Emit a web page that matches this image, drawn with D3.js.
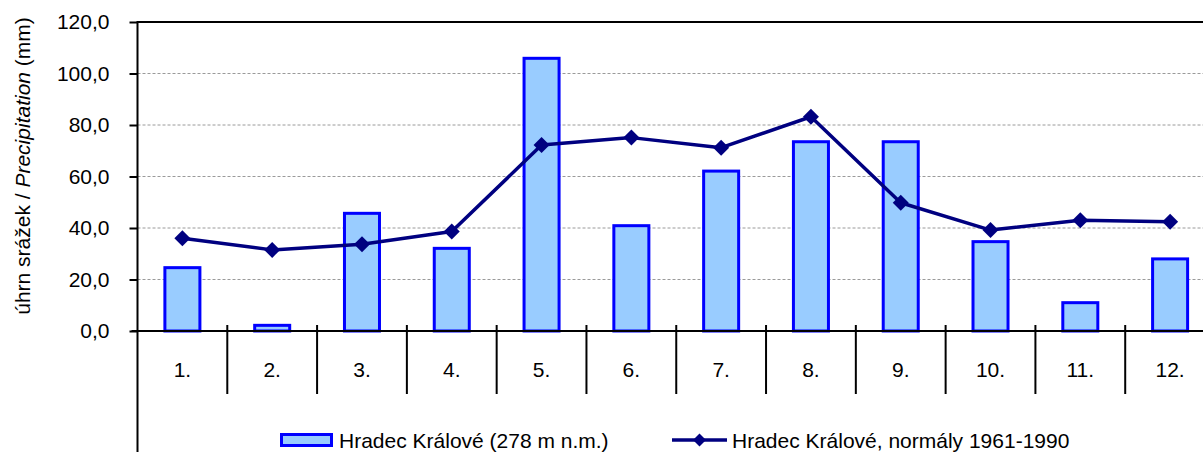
<!DOCTYPE html>
<html><head><meta charset="utf-8">
<script src="https://cdn.jsdelivr.net/npm/d3@7"></script>
<style>body{margin:0;background:#fff}svg{display:block;font-family:"Liberation Sans",Arial,sans-serif}</style>
</head><body><svg id="c" width="1203" height="452"></svg>
<script>
const categories = ["1.","2.","3.","4.","5.","6.","7.","8.","9.","10.","11.","12."];
const precip = [24.6, 2.2, 45.7, 32.1, 105.9, 40.9, 62.1, 73.5, 73.5, 34.7, 11.0, 28.0];
const normals = [36.0, 31.5, 33.7, 38.6, 72.2, 75.1, 71.2, 83.2, 49.8, 39.2, 43.0, 42.4];
const yTicks = [0, 20, 40, 60, 80, 100, 120];
const seriesNames = ["Hradec Králové (278 m n.m.)", "Hradec Králové, normály 1961-1990"];

const svg = d3.select("#c");
const pL = 137.5, pR = 1215, pT = 22, pB = 331;
const x = d3.scaleBand().domain(categories).range([pL, pR]).padding(0);
const y = d3.scaleLinear().domain([0, 120]).range([pB, pT]);
const fmt = v => d3.format(".1f")(v).replace(".", ",");

// gridlines
svg.append("g").selectAll("line").data(yTicks.filter(t => t > 0 && t < 120)).join("line")
  .attr("x1", pL).attr("x2", pR).attr("y1", d => y(d)).attr("y2", d => y(d))
  .attr("stroke", "#9a9a9a").attr("stroke-width", 1).attr("stroke-dasharray", "3,2");
// top border
svg.append("line").attr("x1", pL).attr("x2", pR).attr("y1", y(120)).attr("y2", y(120))
  .attr("stroke", "#000").attr("stroke-width", 2);

// y axis
const yAxis = d3.axisLeft(y).tickValues(yTicks).tickSize(8).tickPadding(20).tickFormat(fmt);
const gy = svg.append("g").attr("transform", `translate(${pL},0)`).call(yAxis);
gy.select(".domain").remove();
gy.selectAll(".tick line").attr("stroke", "#000").attr("stroke-width", 2);
gy.selectAll(".tick text").attr("font-size", 21).attr("fill", "#000")
  .attr("font-family", '"Liberation Sans",Arial,sans-serif');
svg.append("line").attr("x1", pL).attr("x2", pL).attr("y1", pT - 1).attr("y2", 452)
  .attr("stroke", "#000").attr("stroke-width", 2);

// bars
const bw = x.bandwidth() * 0.39;
svg.append("g").selectAll("rect").data(precip).join("rect")
  .attr("x", (d, i) => x(categories[i]) + x.bandwidth() / 2 - bw / 2)
  .attr("width", bw)
  .attr("y", d => y(d)).attr("height", d => y(0) - y(d))
  .attr("fill", "#99ccff").attr("stroke", "#0000ff").attr("stroke-width", 3);

// x axis
svg.append("line").attr("x1", pL - 6).attr("x2", pR).attr("y1", pB).attr("y2", pB)
  .attr("stroke", "#000").attr("stroke-width", 2);
svg.append("g").selectAll("line").data(categories).join("line")
  .attr("x1", d => x(d) + x.bandwidth()).attr("x2", d => x(d) + x.bandwidth())
  .attr("y1", pB - 6).attr("y2", 394).attr("stroke", "#000").attr("stroke-width", 2);
svg.append("g").selectAll("text").data(categories).join("text")
  .attr("x", d => x(d) + x.bandwidth() / 2).attr("y", 377)
  .attr("text-anchor", "middle").attr("font-size", 21).text(d => d);

// line series
const line = d3.line().x((d, i) => x(categories[i]) + x.bandwidth() / 2).y(d => y(d));
svg.append("path").datum(normals).attr("d", line).attr("fill", "none")
  .attr("stroke", "#000080").attr("stroke-width", 3.5).attr("stroke-linejoin", "round");
function diamond(g, cx, cy, r) {
  g.append("path").attr("d", `M${cx},${cy - r}L${cx + r},${cy}L${cx},${cy + r}L${cx - r},${cy}Z`)
    .attr("fill", "#000080");
}
const gm = svg.append("g");
normals.forEach((d, i) => diamond(gm, x(categories[i]) + x.bandwidth() / 2, y(d), 8));

// y axis title
const yt = svg.append("text").attr("transform", "translate(30,166) rotate(-90)")
  .attr("text-anchor", "middle").attr("font-size", 21);
yt.append("tspan").text("úhrn srážek / ");
yt.append("tspan").attr("font-style", "italic").text("Precipitation");
yt.append("tspan").text(" (mm)");

// legend
const lg = svg.append("g");
lg.append("rect").attr("x", 281.5).attr("y", 434.5).attr("width", 50).attr("height", 11)
  .attr("fill", "#99ccff").attr("stroke", "#0000ff").attr("stroke-width", 3);
lg.append("text").attr("x", 339).attr("y", 448).attr("font-size", 21).text(seriesNames[0]);
lg.append("line").attr("x1", 672).attr("x2", 727).attr("y1", 440).attr("y2", 440)
  .attr("stroke", "#000080").attr("stroke-width", 3.5);
diamond(lg, 699.5, 440, 6.5);
lg.append("text").attr("x", 732).attr("y", 448).attr("font-size", 21).text(seriesNames[1]);
</script></body></html>
